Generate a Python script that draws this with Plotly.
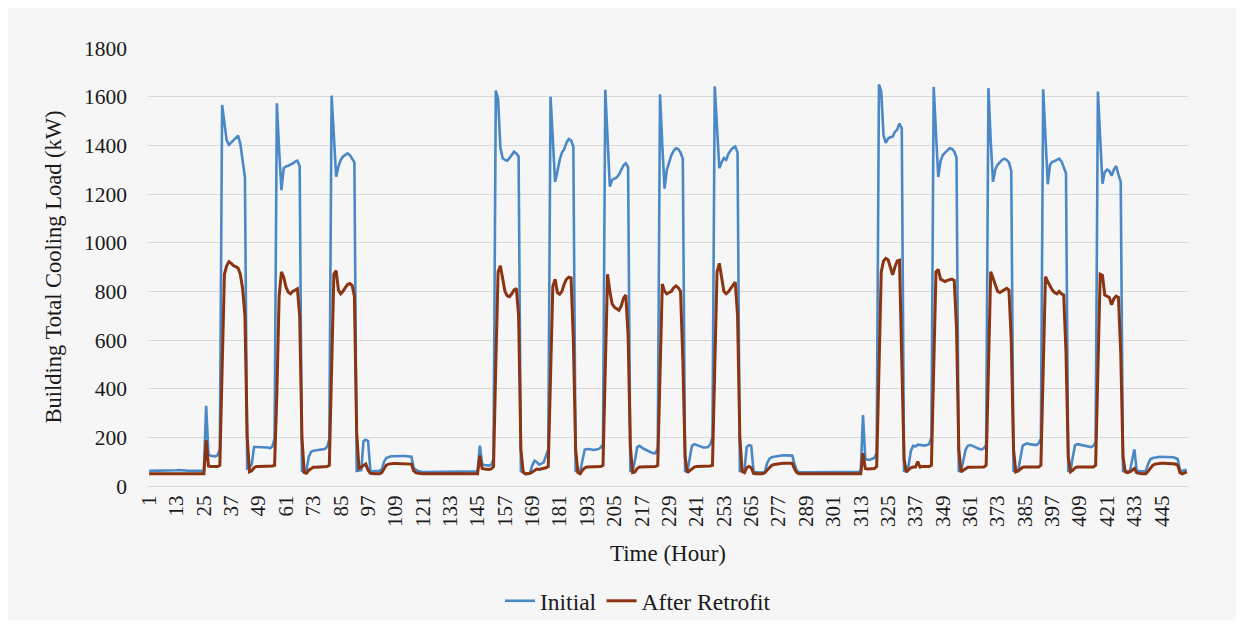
import plotly.graph_objects as go

# ---------------- data (kW), one list per day of 24 hours ----------------
initial_day01 = [62,62,62,62,62,62,62,62,62,62,62,63,65,66,66,66,65,63,62,62,62,62,62,62]
initial_day02 = [62,330,130,124,122,122,126,150,1566,1500,1420,1402,1412,1422,1432,1440,1405,1340,1270,72,75,90,160,160]
initial_day03 = [160,158,157,158,158,155,162,195,1573,1380,1216,1306,1313,1316,1320,1326,1333,1337,1315,62,58,68,120,140]
initial_day04 = [145,146,147,148,150,152,160,192,1604,1420,1271,1313,1340,1354,1360,1367,1360,1345,1330,62,65,65,185,190]
initial_day05 = [185,62,60,60,60,62,68,100,115,120,122,122,123,123,123,123,123,122,122,120,75,66,62,58]
initial_day06 = [57,57,57,57,57,57,57,58,58,58,58,58,58,58,58,58,58,57,57,57,57,57,57,58]
initial_day07 = [60,166,90,86,84,84,88,110,1625,1590,1390,1347,1340,1337,1347,1360,1374,1367,1354,62,55,50,50,55]
initial_day08 = [85,104,98,88,92,97,125,150,1600,1420,1250,1292,1340,1370,1384,1411,1426,1420,1395,62,60,62,110,150]
initial_day09 = [152,152,150,148,150,152,158,172,1628,1420,1230,1258,1262,1268,1280,1300,1318,1326,1310,62,62,105,160,165]
initial_day10 = [158,152,148,142,138,135,135,155,1610,1400,1222,1300,1330,1360,1378,1388,1385,1370,1345,62,60,110,165,172]
initial_day11 = [168,163,160,158,158,160,170,200,1643,1480,1306,1330,1348,1340,1365,1380,1390,1395,1370,62,62,62,160,168]
initial_day12 = [165,60,56,55,55,55,58,95,112,118,120,122,124,125,126,126,126,126,125,90,62,56,55,55]
initial_day13 = [56,56,56,56,56,56,57,57,57,57,57,57,57,57,57,57,57,57,56,56,56,56,56,58]
initial_day14 = [60,292,112,108,108,110,115,135,1650,1620,1440,1410,1428,1433,1436,1455,1465,1490,1470,62,60,85,145,165]
initial_day15 = [162,170,168,165,166,168,172,200,1640,1450,1270,1335,1360,1370,1380,1388,1385,1375,1350,62,60,100,150,165]
initial_day16 = [168,165,160,155,152,150,155,170,1635,1420,1250,1300,1320,1330,1340,1345,1340,1330,1295,62,58,62,110,165]
initial_day17 = [172,175,172,170,168,168,175,195,1630,1420,1240,1320,1332,1335,1340,1345,1335,1310,1285,62,62,120,168,172]
initial_day18 = [170,168,166,165,162,160,165,180,1621,1420,1242,1290,1300,1295,1275,1300,1315,1280,1250,62,60,60,62,100]
initial_day19 = [150,62,60,60,60,62,90,110,115,118,118,120,120,118,118,120,118,118,115,110,65,62,66,66]

retrofit_day01 = [50,50,50,50,50,50,50,50,50,50,50,50,51,52,52,52,51,50,50,50,50,50,50,50]
retrofit_day02 = [50,188,82,80,80,80,80,85,480,870,905,922,915,905,902,895,870,810,700,200,58,62,75,80]
retrofit_day03 = [80,80,80,80,80,80,82,85,380,780,880,858,818,796,790,800,805,811,700,200,55,52,65,72]
retrofit_day04 = [77,77,77,77,78,78,80,85,480,870,885,805,790,800,815,828,832,825,780,220,72,80,84,90]
retrofit_day05 = [65,52,50,50,50,50,55,72,86,90,92,92,92,92,92,92,92,92,91,90,62,55,52,50]
retrofit_day06 = [50,50,50,50,50,50,50,50,50,50,50,50,50,50,50,50,50,50,50,50,50,50,50,50]
retrofit_day07 = [50,125,72,70,68,68,70,80,500,880,905,860,800,782,778,790,805,812,700,150,58,50,50,52]
retrofit_day08 = [58,65,70,68,70,72,75,80,400,820,850,795,788,800,830,850,858,855,600,150,55,50,65,75]
retrofit_day09 = [78,78,78,78,78,78,80,85,480,870,800,748,735,728,722,740,772,785,620,160,55,58,72,78]
retrofit_day10 = [78,78,78,78,78,78,80,85,450,830,800,790,795,800,815,822,815,800,520,120,55,62,72,78]
retrofit_day11 = [80,80,80,80,80,80,82,85,500,880,915,850,800,790,798,812,828,838,700,200,60,55,75,80]
retrofit_day12 = [75,52,50,50,50,50,55,65,78,85,88,90,92,93,93,93,93,93,93,70,55,50,50,50]
retrofit_day13 = [50,50,50,50,50,50,50,50,50,50,50,50,50,50,50,50,50,50,50,50,50,50,50,50]
retrofit_day14 = [50,135,72,70,70,70,72,80,500,880,925,935,930,900,868,900,925,928,550,110,58,65,75,78]
retrofit_day15 = [78,100,78,80,80,80,80,85,500,880,890,850,845,840,845,848,850,845,650,150,58,65,72,77]
retrofit_day16 = [77,77,77,77,77,77,78,85,500,880,855,830,800,795,800,805,812,805,600,150,58,62,70,77]
retrofit_day17 = [78,78,78,78,78,78,78,85,520,860,840,820,805,795,790,800,790,785,550,120,58,65,75,78]
retrofit_day18 = [78,78,78,78,78,78,78,85,500,870,865,785,780,775,745,770,780,775,550,120,58,55,58,65]
retrofit_day19 = [72,55,52,50,50,50,60,75,85,90,92,93,93,93,93,93,92,92,90,85,55,50,55,58]

tick_hours = [1, 13, 25, 37, 49, 61, 73, 85, 97, 109, 121, 133, 145, 157, 169, 181, 193,
              205, 217, 229, 241, 253, 265, 277, 289, 301, 313, 325, 337, 349, 361, 373,
              385, 397, 409, 421, 433, 445]
y_ticks = [0, 200, 400, 600, 800, 1000, 1200, 1400, 1600, 1800]

initial_load = (initial_day01 + initial_day02 + initial_day03 + initial_day04 + initial_day05 +
                initial_day06 + initial_day07 + initial_day08 + initial_day09 + initial_day10 +
                initial_day11 + initial_day12 + initial_day13 + initial_day14 + initial_day15 +
                initial_day16 + initial_day17 + initial_day18 + initial_day19)
retrofit_load = (retrofit_day01 + retrofit_day02 + retrofit_day03 + retrofit_day04 + retrofit_day05 +
                 retrofit_day06 + retrofit_day07 + retrofit_day08 + retrofit_day09 + retrofit_day10 +
                 retrofit_day11 + retrofit_day12 + retrofit_day13 + retrofit_day14 + retrofit_day15 +
                 retrofit_day16 + retrofit_day17 + retrofit_day18 + retrofit_day19)
hours = list(range(1, len(initial_load) + 1))

# ---------------- figure ----------------
W, H = 1244, 626
ML, MR, MT, MB = 148, 56, 48, 140
PW, PH = W - ML - MR, H - MT - MB
FONT = "Liberation Serif, Times New Roman, serif"
TXT = "#1a1a1a"

fig = go.Figure()
fig.add_trace(go.Scatter(x=hours, y=initial_load, mode="lines", name="Initial",
                         line=dict(color="#4a88c6", width=2.6)))
fig.add_trace(go.Scatter(x=hours, y=retrofit_load, mode="lines", name="After Retrofit",
                         line=dict(color="#8a3412", width=3)))

# grey chart-area background with a thin white border
fig.add_shape(type="rect", xref="paper", yref="paper", layer="below",
              x0=(8 - ML) / PW, x1=(W - 8 - ML) / PW,
              y0=(H - MB - (H - 6)) / PH, y1=(H - MB - 8) / PH,
              fillcolor="#f6f6f6", line=dict(width=0))

fig.update_layout(
    width=W, height=H,
    margin=dict(l=ML, r=MR, t=MT, b=MB, autoexpand=False),
    paper_bgcolor="white", plot_bgcolor="rgba(0,0,0,0)",
    font=dict(family=FONT, size=21, color=TXT),
    showlegend=True,
    legend=dict(orientation="h", x=(500 - ML) / PW, xanchor="left",
                y=-(601 - (H - MB)) / PH, yanchor="middle",
                font=dict(family=FONT, size=23.5, color=TXT),
                bgcolor="rgba(0,0,0,0)", itemwidth=30, tracegroupgap=0),
    xaxis=dict(range=[0.5, len(hours) + 0.5], tickmode="array", tickvals=tick_hours,
               ticktext=[str(t) for t in tick_hours], tickangle=-90,
               showgrid=False, zeroline=False, showline=True, linecolor="#d9d9d9",
               linewidth=1, ticks="", tickfont=dict(family=FONT, size=21, color=TXT),
               title=dict(text="Time (Hour)", font=dict(family=FONT, size=23, color=TXT),
                          standoff=18)),
    yaxis=dict(range=[0, 1800], tickmode="array", tickvals=y_ticks,
               showgrid=True, gridcolor="#d9d9d9", gridwidth=1, zeroline=False,
               showline=False, ticks="", ticklabelstandoff=20,
               tickfont=dict(family=FONT, size=21.5, color=TXT),
               title=dict(text="Building Total Cooling Load (kW)",
                          font=dict(family=FONT, size=22.5, color=TXT), standoff=16)),
)

fig.write_html("out.html")
